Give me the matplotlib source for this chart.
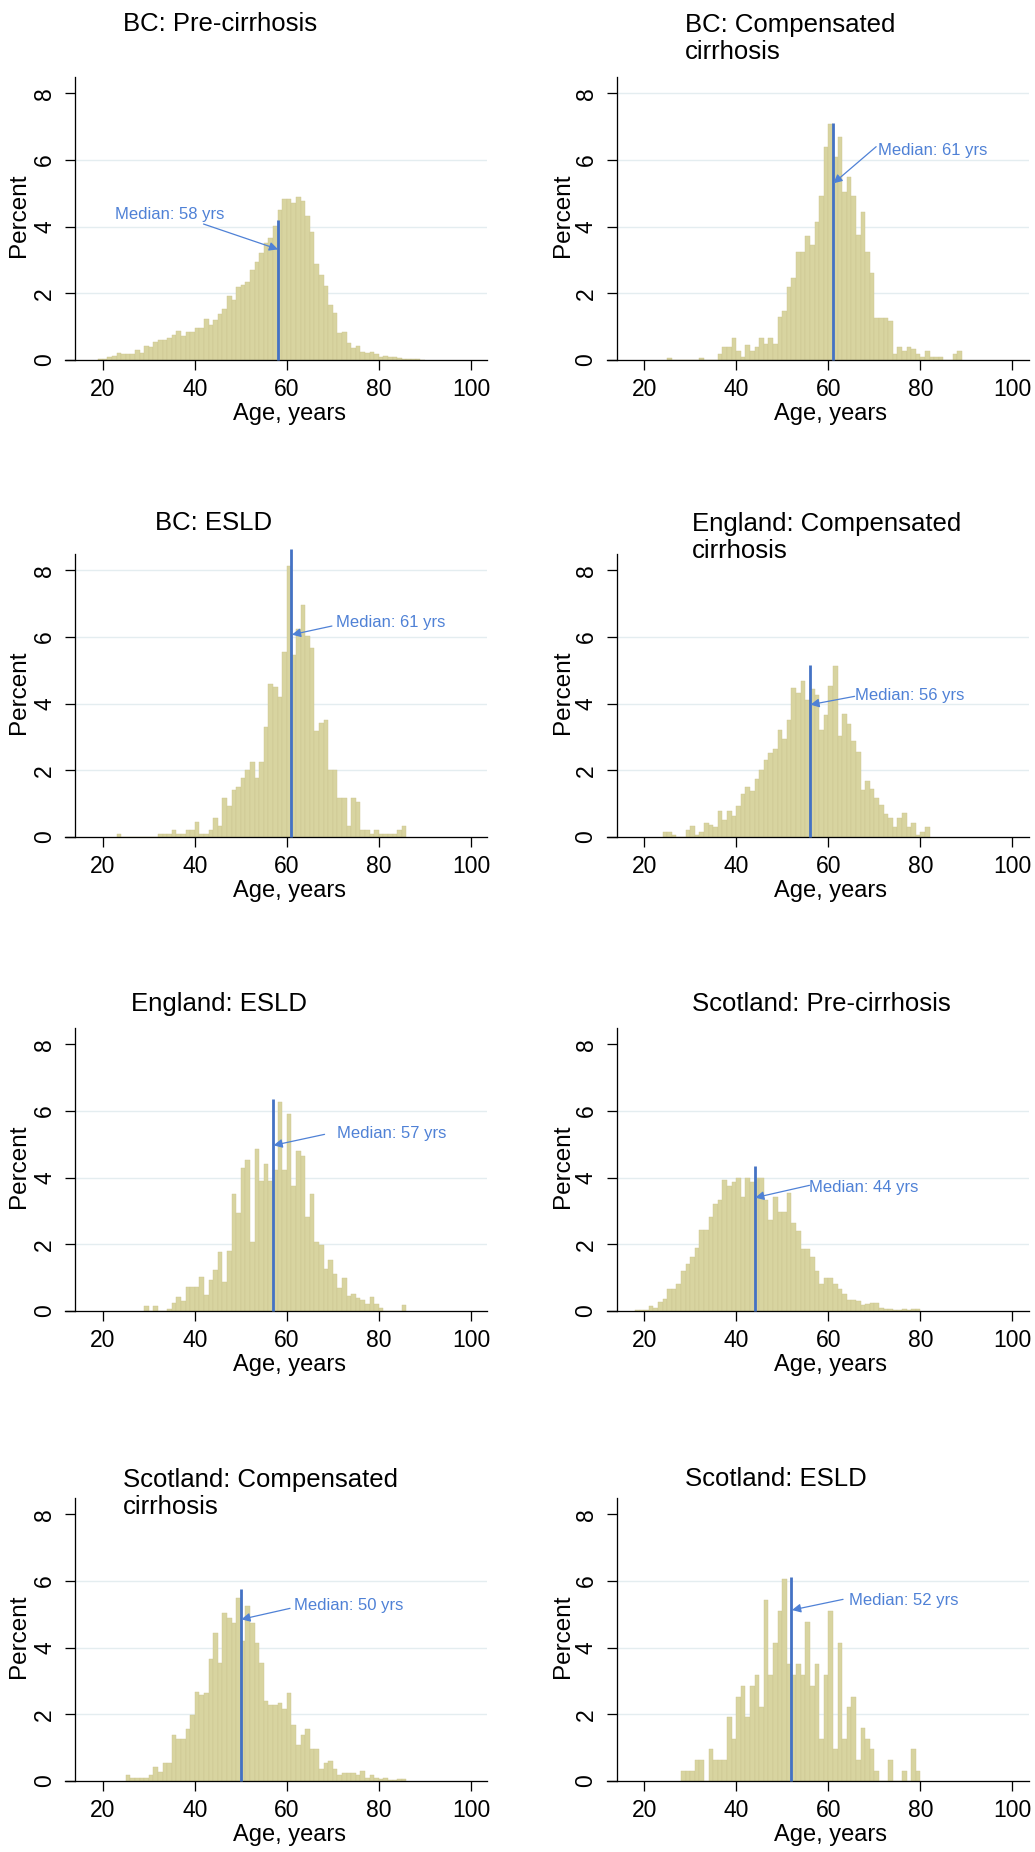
import matplotlib
matplotlib.use("Agg")
import matplotlib.pyplot as plt
import matplotlib.transforms as mtransforms

plt.rcParams["font.family"] = ["Liberation Sans", "DejaVu Sans"]

# ---------------------------------------------------------------------------
# Age distributions (percent of patients per 1-year age bin, bin = [age, age+1))
# ---------------------------------------------------------------------------
bc_pre_start = 19
bc_pre_pct = [0.02, 0.04, 0.08, 0.12, 0.22, 0.17, 0.17, 0.17, 0.30, 0.22,
              0.43, 0.40, 0.53, 0.60, 0.60, 0.67, 0.75, 0.87, 0.73, 0.83,
              0.83, 0.97, 0.97, 1.22, 1.05, 1.20, 1.37, 1.52, 1.92, 1.80,
              2.18, 2.25, 2.35, 2.70, 2.95, 3.22, 3.50, 3.67, 4.02, 4.50,
              4.83, 4.83, 4.70, 4.90, 4.77, 4.33, 3.83, 2.88, 2.55, 2.22,
              1.64, 1.42, 0.82, 0.85, 0.50, 0.35, 0.42, 0.25, 0.22, 0.24,
              0.18, 0.10, 0.12, 0.10, 0.08, 0.06, 0.04, 0.03, 0.02, 0.02,
              0.01]

bc_comp_start = 25
bc_comp_pct = [0.07, 0, 0, 0, 0, 0, 0, 0.07, 0, 0,
               0, 0.18, 0.38, 0.38, 0.67, 0.28, 0.08, 0.46, 0.28, 0.38,
               0.67, 0.48, 0.67, 0.48, 1.28, 1.46, 2.18, 2.46, 3.23, 3.23,
               3.73, 3.46, 4.13, 4.91, 6.40, 7.08, 6.10, 6.68, 5.03, 5.50,
               4.91, 3.74, 4.43, 3.23, 2.60, 1.27, 1.27, 1.27, 1.18, 0.18,
               0.38, 0.28, 0.38, 0.33, 0.18, 0.08, 0.28, 0.08, 0.08, 0.08,
               0, 0, 0.18, 0.28]

bc_esld_start = 23
bc_esld_pct = [0.10, 0, 0, 0, 0, 0, 0, 0, 0, 0.10,
               0.10, 0.10, 0.20, 0.10, 0.10, 0.20, 0.20, 0.45, 0.10, 0.10,
               0.20, 0.58, 0.34, 1.17, 0.92, 1.41, 1.51, 1.76, 2.00, 2.24,
               1.76, 2.24, 3.29, 4.59, 4.49, 4.21, 5.55, 8.14, 5.45, 6.24,
               6.96, 6.02, 5.66, 3.18, 3.42, 3.52, 2.02, 2.02, 1.17, 1.17,
               0.33, 1.17, 1.04, 0.20, 0.20, 0.10, 0.20, 0.10, 0.10, 0.10,
               0.10, 0.20, 0.34]

eng_comp_start = 24
eng_comp_pct = [0.14, 0.14, 0.05, 0, 0, 0.20, 0.34, 0.05, 0.14, 0.42,
                0.36, 0.29, 0.79, 0.50, 0.79, 0.64, 0.92, 1.29, 1.50, 1.37,
                1.74, 2.02, 2.30, 2.52, 2.65, 3.22, 2.94, 3.52, 4.47, 4.32,
                4.68, 4.12, 4.45, 4.25, 3.22, 3.67, 4.54, 5.12, 3.02, 3.68,
                3.40, 2.87, 2.54, 1.40, 1.67, 1.44, 1.17, 0.97, 0.70, 0.57,
                0.29, 0.57, 0.72, 0.29, 0.42, 0.05, 0.14, 0.29]

eng_esld_start = 29
eng_esld_pct = [0.15, 0, 0.14, 0, 0, 0.07, 0.24, 0.42, 0.30, 0.72,
                0.72, 0.72, 1.02, 0.47, 0.94, 1.24, 1.77, 0.86, 1.80, 3.50,
                2.94, 4.30, 4.52, 2.06, 4.85, 3.90, 4.40, 3.90, 4.24, 6.27,
                4.24, 5.92, 3.74, 4.79, 4.64, 2.82, 3.50, 2.07, 1.97, 1.27,
                1.52, 1.12, 0.69, 1.00, 0.45, 0.52, 0.39, 0.32, 0.20, 0.42,
                0.20, 0.10, 0, 0, 0, 0, 0.17]

sco_pre_start = 18
sco_pre_pct = [0.04, 0.04, 0.02, 0.14, 0.10, 0.27, 0.37, 0.67, 0.67, 0.82,
               1.20, 1.42, 1.62, 1.90, 2.42, 2.42, 2.82, 3.20, 3.34, 3.92,
               3.75, 3.87, 4.00, 3.42, 4.00, 3.87, 4.00, 4.00, 3.34, 2.72,
               3.42, 2.97, 2.97, 3.54, 2.64, 2.40, 1.87, 1.87, 1.62, 1.20,
               0.82, 0.99, 0.99, 0.82, 0.67, 0.52, 0.34, 0.34, 0.30, 0.17,
               0.20, 0.24, 0.24, 0.09, 0.07, 0.07, 0.04, 0.04, 0.05, 0.03,
               0.06, 0.06]

sco_comp_start = 25
sco_comp_pct = [0.17, 0.10, 0.10, 0.10, 0.10, 0.18, 0.41, 0.28, 0.53, 0.53,
                1.37, 1.25, 1.25, 1.56, 1.98, 2.68, 2.58, 2.65, 3.65, 4.43,
                3.53, 5.03, 4.88, 4.73, 5.48, 4.21, 5.26, 4.73, 4.15, 3.53,
                2.41, 2.28, 2.28, 2.35, 2.16, 2.65, 1.68, 1.07, 1.37, 1.56,
                0.97, 0.97, 0.36, 0.55, 0.61, 0.35, 0.18, 0.23, 0.23, 0.23,
                0.17, 0.30, 0.10, 0.17, 0.10, 0.06, 0.10, 0.03, 0.03, 0.05,
                0.05]

sco_esld_start = 28
sco_esld_pct = [0.31, 0.31, 0.31, 0.63, 0.63, 0, 0.95, 0.63, 0.63, 0.63,
                1.91, 1.25, 2.53, 2.85, 1.91, 2.85, 3.18, 2.21, 5.43, 3.18,
                4.13, 5.10, 6.05, 3.50, 3.18, 3.50, 3.18, 4.77, 2.85, 3.50,
                1.25, 3.18, 5.10, 0.95, 4.13, 1.25, 2.21, 2.53, 0.63, 1.58,
                1.25, 0.95, 0.31, 0, 0, 0.63, 0, 0, 0.31, 0, 0.95, 0.31]

titles = ["BC: Pre-cirrhosis", "BC: Compensated\ncirrhosis",
          "BC: ESLD", "England: Compensated\ncirrhosis",
          "England: ESLD", "Scotland: Pre-cirrhosis",
          "Scotland: Compensated\ncirrhosis", "Scotland: ESLD"]
starts = [bc_pre_start, bc_comp_start, bc_esld_start, eng_comp_start,
          eng_esld_start, sco_pre_start, sco_comp_start, sco_esld_start]
percents = [bc_pre_pct, bc_comp_pct, bc_esld_pct, eng_comp_pct,
            eng_esld_pct, sco_pre_pct, sco_comp_pct, sco_esld_pct]
medians = [58, 61, 61, 56, 57, 44, 50, 52]
median_line_top = [4.2, 7.1, 8.63, 5.17, 6.35, 4.34, 5.76, 6.13]

x_ticks = [20, 40, 60, 80, 100]
y_ticks = [0, 2, 4, 6, 8]

# ---------------------------------------------------------------------------
# Layout (pixels on a 1035 x 1852 canvas)
# ---------------------------------------------------------------------------
W, H = 1035, 1852
col_left = [65, 606.5]
ylabel_x = [19, 563]
row_base = [360, 837, 1311, 1781]
AX_W, AX_H = 422, 283.3
XLIM = (11.8, 103.5)
YLIM = (0, 8.5)
YAXIS_AT = 14
TITLE_LINE = 28

title_left = [123, 685, 155, 692, 131, 692, 123, 685]
title_base = [31, 31, 530, 530, 1011, 1011, 1486, 1486]
grid_levels = [[2, 4, 6], [2, 4, 6, 8], [2, 4, 6, 8], [2, 4, 6],
               [2, 4, 6], [2, 4, 6], [2, 4, 6], [2, 4, 6]]
# (text x, text y, arrow tail x, arrow tail y, arrow head y) in data units
note_pos = [(22.7, 4.38, 41.9, 4.08, 3.32),
            (70.8, 6.28, 70.4, 6.40, 5.30),
            (70.7, 6.45, 69.8, 6.33, 6.07),
            (65.7, 4.25, 65.7, 4.22, 3.97),
            (71.0, 5.34, 68.2, 5.30, 4.97),
            (55.9, 3.72, 55.9, 3.77, 3.40),
            (61.6, 5.28, 60.7, 5.18, 4.85),
            (64.5, 5.43, 63.2, 5.45, 5.13)]

BAR = "#D8D4A0"
BAR_EDGE = "#CBC58F"
LINE_BLUE = "#4472C4"
NOTE_BLUE = "#4F81D6"
GRID = "#E4EDF0"
PX = 72 / 100  # points per pixel

fig = plt.figure(figsize=(W / 100, H / 100), dpi=100)

for i in range(8):
    r, c = divmod(i, 2)
    ax = fig.add_axes([col_left[c] / W, 1 - row_base[r] / H, AX_W / W, AX_H / H])
    ages = [starts[i] + k for k in range(len(percents[i]))]

    for g in grid_levels[i]:
        ax.hlines(g, YAXIS_AT, XLIM[1], color=GRID, lw=1.4 * PX, zorder=0)

    ax.bar(ages, percents[i], width=1.0, align="edge", color=BAR,
           edgecolor=BAR_EDGE, linewidth=0.3, zorder=2)

    ax.vlines(medians[i], 0, median_line_top[i], color=LINE_BLUE,
              lw=2.0, zorder=4, clip_on=False)

    tx, ty, ax0, ay0, hy = note_pos[i]
    ax.text(tx, ty, f"Median: {medians[i]} yrs", color=NOTE_BLUE,
            fontsize=12, ha="left", va="center", zorder=5)
    ax.annotate("", xy=(medians[i] + 0.1, hy), xytext=(ax0, ay0),
                arrowprops=dict(arrowstyle="-|>", color=NOTE_BLUE,
                                lw=0.9, mutation_scale=13,
                                shrinkA=0, shrinkB=0), zorder=5)

    ax.set_xlim(*XLIM)
    ax.set_ylim(*YLIM)
    ax.set_xticks(x_ticks)
    ax.set_yticks(y_ticks)

    for s in ("top", "right"):
        ax.spines[s].set_visible(False)
    ax.spines["left"].set_position(("data", YAXIS_AT))
    for s in ("left", "bottom"):
        ax.spines[s].set_linewidth(1.3 * PX)
        ax.spines[s].set_color("black")

    ax.tick_params(axis="both", direction="out", length=10 * PX,
                   width=1.3 * PX, colors="black", labelsize=16.5)
    ax.tick_params(axis="x", pad=6)
    ax.tick_params(axis="y", pad=6.5, labelrotation=90)
    for lbl in ax.get_yticklabels():
        lbl.set_verticalalignment("center")

    ax.set_xlabel("Age, years", fontsize=17)
    ax.xaxis.set_label_coords(60.5, -0.152,
                              transform=mtransforms.blended_transform_factory(
                                  ax.transData, ax.transAxes))
    ax.set_ylabel("Percent", fontsize=17.5, va="center")
    ax.yaxis.set_label_coords((ylabel_x[c] - col_left[c]) / AX_W, 0.51)

    n_extra = titles[i].count("\n")
    fig.text(title_left[i] / W, 1 - (title_base[i] + TITLE_LINE * n_extra) / H,
             titles[i], fontsize=18.5, ha="left", va="baseline",
             linespacing=1.14)

fig.savefig("out.png", dpi=100)
